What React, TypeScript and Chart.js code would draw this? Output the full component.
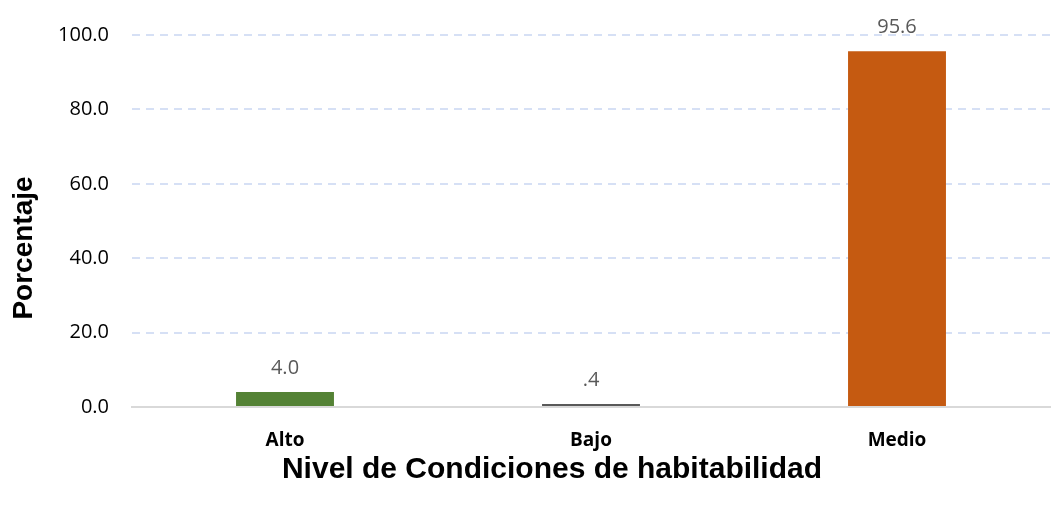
import React, { useEffect, useRef } from "react";
import { Chart, registerables } from "chart.js";

Chart.register(...registerables);

const categories = ["Alto", "Bajo", "Medio"];
const values = [4.0, 0.4, 95.6];
const valueLabels = ["4.0", ".4", "95.6"];
const barColors = ["#548235", "#595959", "#C55A11"];
const yTicks = [0, 20, 40, 60, 80, 100];
const xTitle = "Nivel de Condiciones de habitabilidad";
const yTitle = "Porcentaje";

const dataLabelPlugin = {
  id: "dataLabels",
  afterDatasetsDraw(chart: any) {
    const ctx = chart.ctx;
    const meta = chart.getDatasetMeta(0);
    ctx.save();
    ctx.fillStyle = "#595959";
    ctx.font = "20px 'Open Sans', sans-serif";
    ctx.textAlign = "center";
    ctx.textBaseline = "middle";
    meta.data.forEach((bar: any, i: number) => {
      ctx.fillText(valueLabels[i], bar.x, bar.y - 24);
    });
    ctx.restore();
  },
};

const axisTitlesPlugin = {
  id: "axisTitles",
  afterDraw(chart: any) {
    const ctx = chart.ctx;
    ctx.save();
    ctx.fillStyle = "#000";
    ctx.textAlign = "center";
    ctx.textBaseline = "middle";
    ctx.font = "bold 30px 'Liberation Sans', Arial, sans-serif";
    ctx.fillText(xTitle, 552, 470);
    ctx.translate(24, 248);
    ctx.rotate(-Math.PI / 2);
    ctx.font = "bold 28px 'Liberation Sans', Arial, sans-serif";
    ctx.fillText(yTitle, 0, 0);
    ctx.restore();
  },
};

export default function App() {
  const ref = useRef<HTMLCanvasElement>(null);
  useEffect(() => {
    document.body.style.margin = "0";
    const chart = new Chart(ref.current!, {
      type: "bar",
      data: {
        labels: categories,
        datasets: [
          {
            data: values,
            backgroundColor: barColors,
            minBarLength: 3,
            categoryPercentage: 1,
            barPercentage: 0.32,
          },
        ],
      },
      options: {
        animation: false,
        responsive: false,
        layout: { padding: { top: 29, right: 4, left: 50, bottom: 0 } },
        plugins: { legend: { display: false }, tooltip: { enabled: false } },
        scales: {
          x: {
            afterFit: (axis: any) => {
              axis.height = 101;
            },
            grid: { display: false },
            border: { color: "#d9d9d9", width: 2 },
            ticks: {
              color: "#000",
              font: { family: "'Open Sans', sans-serif", size: 19, weight: "bold" },
              padding: 14,
            },
          },
          y: {
            min: 0,
            max: 100,
            afterFit: (axis: any) => {
              axis.width = 82;
            },
            afterBuildTicks: (axis: any) => {
              axis.ticks = yTicks.map((v) => ({ value: v }));
            },
            grid: {
              color: (c: any) => (c.tick && c.tick.value === 0 ? "#d9d9d9" : "#d6e0f5"),
              lineWidth: 2,
              drawTicks: false,
            },
            border: { display: false, dash: [8, 6] },
            ticks: {
              color: "#000",
              font: { family: "'Open Sans', sans-serif", size: 20 },
              padding: 23,
              callback: (v: any) => Number(v).toFixed(1),
            },
          },
        },
      },
      plugins: [dataLabelPlugin, axisTitlesPlugin],
    });
    return () => chart.destroy();
  }, []);
  return (
    <div style={{ width: 1054, height: 508 }}>
      <canvas ref={ref} width={1054} height={508} />
    </div>
  );
}
